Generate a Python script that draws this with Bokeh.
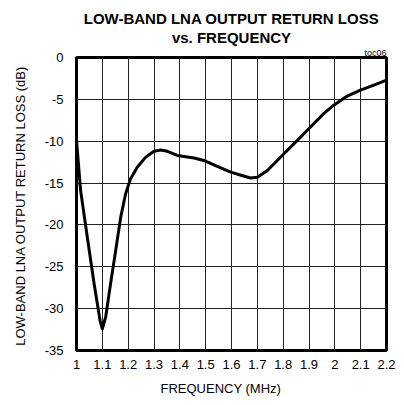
from bokeh.plotting import figure
from bokeh.models import FixedTicker, Range1d, Title
from bokeh.embed import file_html
from bokeh.resources import INLINE

# Data
freq_mhz = [1.000, 1.016, 1.042, 1.068, 1.091, 1.100, 1.113, 1.132, 1.152,
            1.171, 1.190, 1.209, 1.235, 1.268, 1.300, 1.326, 1.352, 1.390, 1.455,
            1.493, 1.545, 1.597, 1.640, 1.674, 1.700, 1.739, 1.803, 1.855, 1.906,
            1.957, 1.996, 2.048, 2.099, 2.151, 2.200]
return_loss_db = [-9.9, -15.9, -21.5, -27.0, -31.4, -32.4, -31.0, -27.0, -23.0,
                  -19.1, -16.3, -14.5, -13.1, -11.9, -11.2, -11.05, -11.2, -11.7, -12.0,
                  -12.3, -13.0, -13.7, -14.1, -14.4, -14.3, -13.5, -11.5, -9.9, -8.3,
                  -6.7, -5.7, -4.6, -3.9, -3.3, -2.7]

x_ticks = [1.0, 1.1, 1.2, 1.3, 1.4, 1.5, 1.6, 1.7, 1.8, 1.9, 2.0, 2.1, 2.2]
x_tick_labels = ["1", "1.1", "1.2", "1.3", "1.4", "1.5", "1.6", "1.7", "1.8", "1.9", "2", "2.1", "2.2"]
y_ticks = [0, -5, -10, -15, -20, -25, -30, -35]
y_tick_labels = ["0", "-5", "-10", "-15", "-20", "-25", "-30", "-35"]

title_lines = ["LOW-BAND LNA OUTPUT RETURN LOSS", "vs. FREQUENCY"]
x_label = "FREQUENCY (MHz)"
y_label = "LOW-BAND LNA OUTPUT RETURN LOSS  (dB)"
tag = "toc06"

FONT = "Liberation Sans"

p = figure(width=404, height=405, output_backend="svg", toolbar_location=None,
           x_range=Range1d(1.0, 2.2), y_range=Range1d(-35, 0),
           min_border_left=76, min_border_right=18, min_border_top=57, min_border_bottom=55)
p.title.text = ""
p.background_fill_color = "white"
p.border_fill_color = "white"
p.outline_line_color = "black"
p.outline_line_width = 3

p.xaxis.ticker = FixedTicker(ticks=x_ticks)
p.yaxis.ticker = FixedTicker(ticks=y_ticks)
p.xaxis.major_label_overrides = {t: l for t, l in zip(x_ticks, x_tick_labels)}
p.yaxis.major_label_overrides = {t: l for t, l in zip(y_ticks, y_tick_labels)}
for ax in (p.xaxis, p.yaxis):
    ax.axis_line_color = None
    ax.major_tick_line_color = None
    ax.minor_tick_line_color = None
    ax.major_tick_in = 0
    ax.major_tick_out = 0
    ax.major_label_text_font = FONT
    ax.major_label_text_font_size = "13px"
    ax.major_label_text_color = "black"
    ax.axis_label_text_font = FONT
    ax.axis_label_text_font_size = "13px"
    ax.axis_label_text_font_style = "normal"
    ax.axis_label_text_color = "black"
p.xaxis.major_label_standoff = 9
p.yaxis.major_label_standoff = 13
p.yaxis.axis_label = y_label
p.yaxis.axis_label_standoff = 14

p.xgrid.ticker = FixedTicker(ticks=x_ticks)
p.ygrid.ticker = FixedTicker(ticks=y_ticks)
p.grid.grid_line_color = "#222222"
p.grid.grid_line_width = 1
p.grid.grid_line_alpha = 1.0

p.line(freq_mhz, return_loss_db, line_color="black", line_width=3, line_join="round")

# x-axis title (slightly left of centre, as in the reference)
p.add_layout(Title(text=x_label, align="left", offset=84, text_font=FONT, text_font_size="13px",
                   text_font_style="normal", text_color="black", standoff=15), "below")

# tag (nearest to frame), then title lines stacked upward
p.add_layout(Title(text=tag, align="right", text_font=FONT, text_font_size="9px",
                   text_font_style="normal", text_color="black", standoff=0), "above")
p.add_layout(Title(text=title_lines[1], align="center", text_font=FONT, text_font_size="15px",
                   text_font_style="bold", text_color="black", standoff=0), "above")
p.add_layout(Title(text=title_lines[0], align="center", text_font=FONT, text_font_size="15px",
                   text_font_style="bold", text_color="black", standoff=0), "above")

open("out.html", "w").write(file_html(p, INLINE))
